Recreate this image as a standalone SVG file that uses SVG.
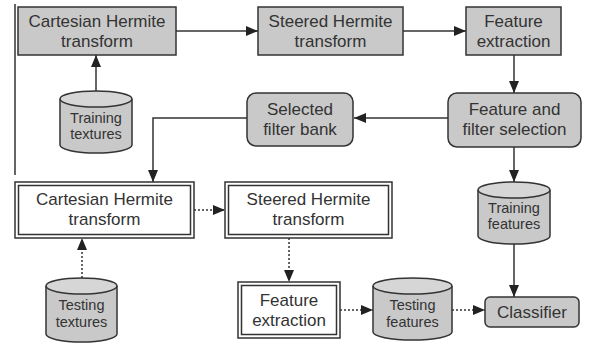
<svg xmlns="http://www.w3.org/2000/svg" width="590" height="347" viewBox="0 0 590 347">
<style>
.box{fill:#c9c9c9;stroke:#333;stroke-width:1.5}
.wbox{fill:#fff;stroke:#333;stroke-width:1.5}
.cyl{fill:#c9c9c9;stroke:#333;stroke-width:1.5}
.cyltop{fill:#d6d6d6;stroke:#333;stroke-width:1.5}
.t{font-family:"Liberation Sans",Arial,sans-serif;font-size:17px;fill:#333;text-anchor:middle}
.s{font-family:"Liberation Sans",Arial,sans-serif;font-size:14.5px;fill:#333;text-anchor:middle}
.c{fill:none;stroke:#333;stroke-width:1.5}
.d{fill:none;stroke:#333;stroke-width:1.5;stroke-dasharray:2 2}
</style>
<defs>
<marker id="ah" markerUnits="userSpaceOnUse" markerWidth="13" markerHeight="11" refX="12" refY="5" orient="auto">
<path d="M0,0 L12,5 L0,10 z" fill="#222"/>
</marker>
</defs>
<rect width="590" height="347" fill="#fff"/>
<line x1="15" y1="4" x2="15" y2="175" stroke="#333" stroke-width="1.5"/>

<g id="connectors">
<line class="c" x1="176" y1="31" x2="258" y2="31" marker-end="url(#ah)"/>
<line class="c" x1="403" y1="31" x2="466" y2="31" marker-end="url(#ah)"/>
<line class="c" x1="514" y1="55" x2="514" y2="93" marker-end="url(#ah)"/>
<line class="c" x1="448" y1="118" x2="354" y2="118" marker-end="url(#ah)"/>
<path class="c" d="M247,118 H153 V182" marker-end="url(#ah)"/>
<line class="c" x1="96" y1="91" x2="96" y2="55" marker-end="url(#ah)"/>
<line class="c" x1="514" y1="147" x2="514" y2="182" marker-end="url(#ah)"/>
<line class="c" x1="514" y1="244" x2="514" y2="297" marker-end="url(#ah)"/>
<line class="d" x1="194" y1="210" x2="225" y2="210" marker-end="url(#ah)"/>
<line class="d" x1="82" y1="278" x2="82" y2="238" marker-end="url(#ah)"/>
<line class="d" x1="289" y1="238" x2="289" y2="282" marker-end="url(#ah)"/>
<line class="d" x1="340" y1="310" x2="373" y2="310" marker-end="url(#ah)"/>
<line class="d" x1="452" y1="310" x2="485" y2="310" marker-end="url(#ah)"/>
</g>

<g id="cht1">
<rect class="box" x="18" y="7" width="158" height="48"/>
<text class="t" x="97" y="27">Cartesian Hermite</text>
<text class="t" x="97" y="47">transform</text>
</g>
<g id="sht1">
<rect class="box" x="258" y="7" width="145" height="48"/>
<text class="t" x="330.5" y="27">Steered Hermite</text>
<text class="t" x="330.5" y="47">transform</text>
</g>
<g id="fe1">
<rect class="box" x="466" y="7" width="95" height="48"/>
<text class="t" x="513.5" y="27">Feature</text>
<text class="t" x="513.5" y="47">extraction</text>
</g>
<g id="ffs">
<rect class="box" x="448" y="93" width="133" height="54" rx="9"/>
<text class="t" x="514.5" y="115">Feature and</text>
<text class="t" x="514.5" y="135">filter selection</text>
</g>
<g id="sfb">
<rect class="box" x="247" y="93" width="106" height="53" rx="9"/>
<text class="t" x="300" y="115">Selected</text>
<text class="t" x="300" y="135">filter bank</text>
</g>
<g id="trtex">
<path class="cyl" d="M60,99 V145 A36,8 0 0 0 132,145 V99"/>
<ellipse class="cyltop" cx="96" cy="99" rx="36" ry="8"/>
<text class="s" x="96" y="123">Training</text>
<text class="s" x="96" y="139">textures</text>
</g>
<g id="cht2">
<rect class="wbox" x="15" y="182" width="179" height="56"/>
<rect class="wbox" x="18.5" y="185.5" width="172" height="49"/>
<text class="t" x="104.5" y="205">Cartesian Hermite</text>
<text class="t" x="104.5" y="225">transform</text>
</g>
<g id="sht2">
<rect class="wbox" x="225" y="182" width="167" height="56"/>
<rect class="wbox" x="228.5" y="185.5" width="160" height="49"/>
<text class="t" x="308.5" y="205">Steered Hermite</text>
<text class="t" x="308.5" y="225">transform</text>
</g>
<g id="fe2">
<rect class="wbox" x="238" y="282" width="102" height="56"/>
<rect class="wbox" x="241.5" y="285.5" width="95" height="49"/>
<text class="t" x="289" y="306">Feature</text>
<text class="t" x="289" y="326">extraction</text>
</g>
<g id="tetex">
<path class="cyl" d="M46,286 V334 A35.5,8 0 0 0 117,334 V286"/>
<ellipse class="cyltop" cx="81.5" cy="286" rx="35.5" ry="8"/>
<text class="s" x="81.5" y="310">Testing</text>
<text class="s" x="81.5" y="327">textures</text>
</g>
<g id="trfeat">
<path class="cyl" d="M478,190 V236 A36,8 0 0 0 550,236 V190"/>
<ellipse class="cyltop" cx="514" cy="190" rx="36" ry="8"/>
<text class="s" x="514" y="213">Training</text>
<text class="s" x="514" y="229">features</text>
</g>
<g id="tefeat">
<path class="cyl" d="M373,286 V332 A39.5,8 0 0 0 452,332 V286"/>
<ellipse class="cyltop" cx="412.5" cy="286" rx="39.5" ry="8"/>
<text class="s" x="412.5" y="310">Testing</text>
<text class="s" x="412.5" y="327">features</text>
</g>
<g id="classifier">
<rect class="box" x="485" y="297" width="94" height="30" rx="5"/>
<text class="t" x="532" y="318">Classifier</text>
</g>
</svg>
